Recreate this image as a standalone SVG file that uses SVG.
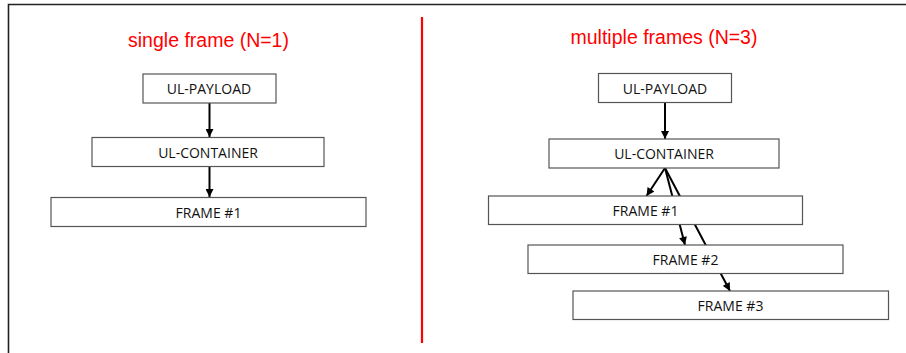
<svg xmlns="http://www.w3.org/2000/svg" width="906" height="353" viewBox="0 0 906 353">
<style>
.box{fill:#fff;stroke:#555;stroke-width:1.2}
.lbl{font-family:"Open Sans","Liberation Sans",Arial,sans-serif;font-size:14px;fill:#111;text-anchor:middle}
.ttl{font-family:"Liberation Sans",Arial,sans-serif;font-size:19.5px;fill:#f00;text-anchor:middle}
.con{stroke:#000;stroke-width:2;fill:none;marker-end:url(#ah)}
</style>
<defs>
<marker id="ah" viewBox="0 0 10 10" refX="10" refY="5" markerWidth="4.5" markerHeight="4" orient="auto" markerUnits="strokeWidth">
<path d="M0,0 L10,5 L0,10 z" fill="#000"/>
</marker>
</defs>
<rect width="906" height="353" fill="#fff"/>
<path d="M8.5,353 V4.5 H906" fill="none" stroke="#222" stroke-width="1.6"/>
<line x1="422" y1="17" x2="422" y2="343" stroke="#f00" stroke-width="2.2"/>
<text class="ttl" x="208.5" y="47">single frame (N=1)</text>
<text class="ttl" x="664" y="44">multiple frames (N=3)</text>
<g id="connectors">
<line class="con" x1="209.5" y1="103" x2="209.5" y2="137"/>
<line class="con" x1="209.5" y1="167" x2="209.5" y2="197"/>
<line class="con" x1="665" y1="102" x2="665" y2="139"/>
<line class="con" x1="665" y1="168" x2="646.5" y2="196"/>
<line class="con" x1="665" y1="168" x2="685" y2="245"/>
<line class="con" x1="665" y1="168" x2="730" y2="291"/>
</g>
<g id="l-payload"><rect class="box" x="143" y="74" width="133" height="29"/><text class="lbl" x="209" y="94">UL-PAYLOAD</text></g>
<g id="l-container"><rect class="box" x="92" y="137.5" width="232" height="29"/><text class="lbl" x="208" y="157.5">UL-CONTAINER</text></g>
<g id="l-frame1"><rect class="box" x="51" y="197.5" width="315" height="29"/><text class="lbl" x="208.5" y="217.5">FRAME #1</text></g>
<g id="r-payload"><rect class="box" x="598.5" y="73.5" width="133" height="29"/><text class="lbl" x="665" y="93.5">UL-PAYLOAD</text></g>
<g id="r-container"><rect class="box" x="549" y="139" width="230" height="29"/><text class="lbl" x="664" y="159">UL-CONTAINER</text></g>
<g id="r-frame1"><rect class="box" x="488.5" y="196" width="314" height="28.5"/><text class="lbl" x="645.5" y="216">FRAME #1</text></g>
<g id="r-frame2"><rect class="box" x="528" y="245" width="315" height="28.5"/><text class="lbl" x="685.5" y="265">FRAME #2</text></g>
<g id="r-frame3"><rect class="box" x="573" y="291" width="315.5" height="28.5"/><text class="lbl" x="730.5" y="311">FRAME #3</text></g>
</svg>
